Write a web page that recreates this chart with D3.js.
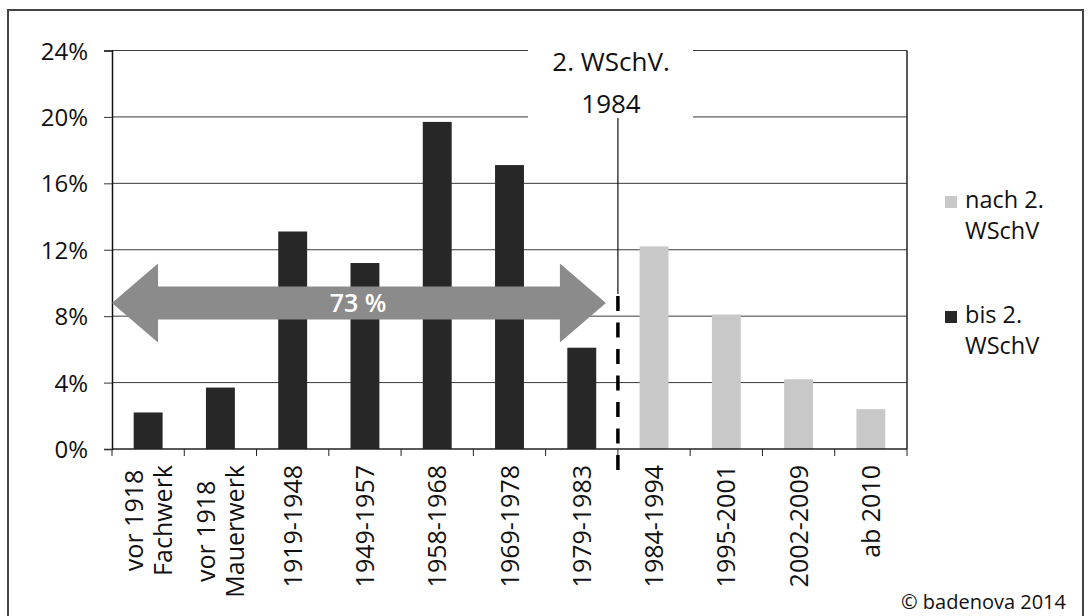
<!DOCTYPE html>
<html>
<head>
<meta charset="utf-8">
<title>Baualter WSchV</title>
<script src="https://cdn.jsdelivr.net/npm/d3@7"></script>
<style>
  body { margin: 0; background: #fff; }
  text { font-family: "Open Sans", "DejaVu Sans", sans-serif; fill: #111; }
</style>
</head>
<body>
<script>
// categories (two line labels split by |)
var categories = ["vor 1918|Fachwerk", "vor 1918|Mauerwerk", "1919-1948", "1949-1957", "1958-1968",
                  "1969-1978", "1979-1983", "1984-1994", "1995-2001", "2002-2009", "ab 2010"]
// share of buildings in %
var values = [2.2, 3.7, 13.1, 11.2, 19.7, 17.1, 6.1, 12.2, 8.1, 4.2, 2.4]
// which series each bar belongs to
var series = ["bis 2. WSchV", "nach 2. WSchV"]
var seriesOf = [0, 0, 0, 0, 0, 0, 0, 1, 1, 1, 1]
var yTicks = [0, 4, 8, 12, 16, 20, 24]

var w = 1092, h = 616
var svg = d3.select("body").append("svg").attr("width", w).attr("height", h)

// outer frame
svg.append("rect").attr("x", 8).attr("y", 10).attr("width", 1075).attr("height", 640)
  .attr("fill", "none").attr("stroke", "#444").attr("stroke-width", 2)

var pLeft = 112, pRight = 907, pTop = 50.5, pBottom = 449

var x = d3.scaleBand().domain(categories).range([pLeft, pRight]).paddingInner(0.6).paddingOuter(0.3)
var y = d3.scaleLinear().domain([0, 24]).range([pBottom, pTop])
var colors = ["#272727", "#c8c8c8"]

// gridlines
svg.append("g").selectAll("line").data(yTicks.slice(1)).join("line")
  .attr("x1", pLeft).attr("x2", pRight)
  .attr("y1", function(d){ return y(d) }).attr("y2", function(d){ return y(d) })
  .attr("stroke", "#3a3a3a").attr("stroke-width", 1)

// right border of plot
svg.append("line").attr("x1", pRight).attr("x2", pRight).attr("y1", pTop).attr("y2", pBottom)
  .attr("stroke", "#222").attr("stroke-width", 1.5)

// bars
svg.append("g").selectAll("rect").data(values).join("rect")
  .attr("x", function(d, i){ return x(categories[i]) })
  .attr("width", x.bandwidth())
  .attr("y", function(d){ return y(d) })
  .attr("height", function(d){ return y(0) - y(d) })
  .attr("fill", function(d, i){ return colors[seriesOf[i]] })

// y axis
var yAxis = d3.axisLeft(y).tickValues(yTicks).tickFormat(function(d){ return d + "%" })
  .tickSize(8).tickPadding(16)
var gy = svg.append("g").attr("transform", "translate(" + pLeft + ",0)").call(yAxis)
gy.select(".domain").attr("stroke", "#111").attr("stroke-width", 1.5)
gy.selectAll(".tick line").attr("stroke", "#333")
gy.selectAll(".tick text").attr("font-size", 24).attr("font-family", "Open Sans").attr("fill", "#111")
  .attr("dy", "0.36em")

// x axis line and ticks at band boundaries
svg.append("line").attr("x1", pLeft).attr("x2", pRight).attr("y1", pBottom).attr("y2", pBottom)
  .attr("stroke", "#222").attr("stroke-width", 1.5)
var bounds = d3.range(categories.length + 1).map(function(i){ return pLeft + i * x.step() })
svg.append("g").selectAll("line").data(bounds).join("line")
  .attr("x1", function(d){ return d }).attr("x2", function(d){ return d })
  .attr("y1", pBottom).attr("y2", pBottom + 7)
  .attr("stroke", "#222").attr("stroke-width", 1)

// x labels, rotated, top aligned under axis
categories.forEach(function(c, i){
  var lines = c.split("|")
  var cx = x(c) + x.bandwidth() / 2 + 9
  var g = svg.append("g").attr("transform", "translate(" + cx + "," + (pBottom + 16) + ") rotate(-90)")
  var t = g.append("text").attr("font-size", 25).attr("text-anchor", "middle")
  lines.forEach(function(l, k){
    t.append("tspan").attr("x", 0).attr("y", (k - (lines.length - 1) / 2) * 29).text(l)
  })
  var maxLen = d3.max(t.selectAll("tspan").nodes(), function(n){ return n.getComputedTextLength() })
  t.attr("transform", "translate(" + (-maxLen / 2) + ",0)")
})

// annotation: 2. WSchV. 1984
var divX = pLeft + 7 * x.step()
svg.append("rect").attr("x", 528).attr("y", 34).attr("width", 165).attr("height", 84).attr("fill", "#fff")
svg.append("text").attr("x", 611).attr("y", 71).attr("text-anchor", "middle").attr("font-size", 26)
  .text("2. WSchV.")
svg.append("text").attr("x", 611).attr("y", 113).attr("text-anchor", "middle").attr("font-size", 26)
  .text("1984")
svg.append("line").attr("x1", divX).attr("x2", divX).attr("y1", 118).attr("y2", 294)
  .attr("stroke", "#111").attr("stroke-width", 1.2)
svg.append("line").attr("x1", divX).attr("x2", divX).attr("y1", 296).attr("y2", 472)
  .attr("stroke", "#000").attr("stroke-width", 3.5).attr("stroke-dasharray", "15,11.5")

// double arrow over the first seven categories
var share = Math.round(d3.sum(values.slice(0, 7)))
var ay = y(8.8), ax0 = pLeft, ax1 = divX - 12
var shaftH = 33, headH = 79, headL = 46
var arrow = [
  [ax0, ay], [ax0 + headL, ay - headH / 2], [ax0 + headL, ay - shaftH / 2],
  [ax1 - headL, ay - shaftH / 2], [ax1 - headL, ay - headH / 2], [ax1, ay],
  [ax1 - headL, ay + headH / 2], [ax1 - headL, ay + shaftH / 2],
  [ax0 + headL, ay + shaftH / 2], [ax0 + headL, ay + headH / 2]
]
svg.append("path").attr("d", d3.line()(arrow) + "Z").attr("fill", "#8b8b8b")
svg.append("text").attr("x", 358).attr("y", ay + 9).attr("text-anchor", "middle")
  .attr("font-size", 25).attr("font-weight", 600).style("fill", "#fff").text(share + " %")

// legend (nach first, then bis)
var legend = [{s: 1, y: 208}, {s: 0, y: 323}]
legend.forEach(function(l){
  var parts = series[l.s].split(" WSchV")
  svg.append("rect").attr("x", 945).attr("y", l.y - 12).attr("width", 12).attr("height", 12)
    .attr("fill", colors[l.s])
  var t = svg.append("text").attr("font-size", 23.5)
  t.append("tspan").attr("x", 965).attr("y", l.y).text(parts[0])
  t.append("tspan").attr("x", 965).attr("y", l.y + 31).text("WSchV")
})

// copyright
svg.append("text").attr("x", 1066).attr("y", 609).attr("text-anchor", "end").attr("font-size", 20)
  .text("© badenova 2014")
</script>
</body>
</html>
